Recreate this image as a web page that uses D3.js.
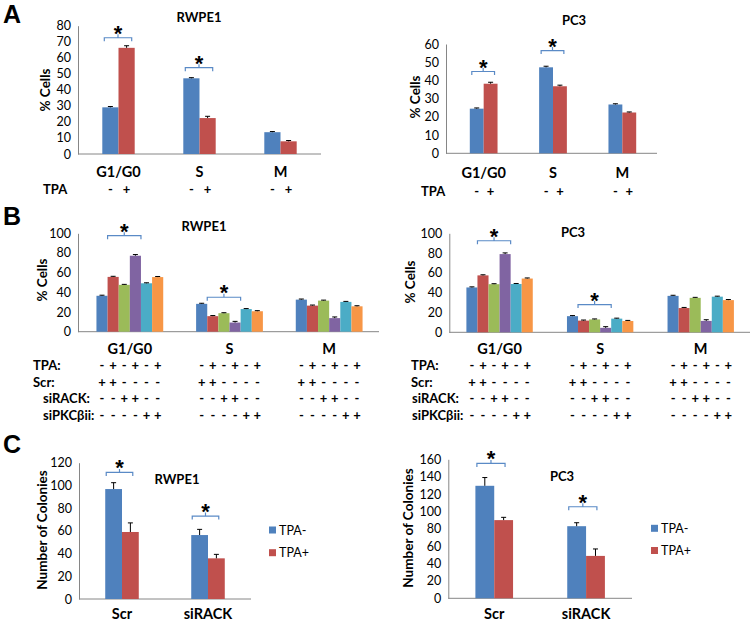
<!DOCTYPE html>
<html>
<head>
<meta charset="utf-8">
<script src="https://cdnjs.cloudflare.com/ajax/libs/d3/7.8.5/d3.min.js"></script>
<style>
	body { margin: 0; background: #fff; }
	svg text { font-family: Lato, 'Open Sans', sans-serif; fill: #000; }
	.bold { font-weight: bold; }
	.letter { font-family: 'Liberation Sans', Arial, sans-serif; font-weight: bold; font-size: 25px; }
</style>
</head>
<body>
<div id="chart"></div>
<script>

//////////////////////////////////////////////////////////////
//////////////////////////// Data ////////////////////////////
//////////////////////////////////////////////////////////////

var phases = ["G1/G0", "S", "M"];
var treatments = ["Scr", "siRACK"];
var tpaLegend = ["TPA-", "TPA+"];

//A - cell cycle, TPA - / +
var aRwpeMinus = [29.1, 47.2, 13.6], aRwpeMinusErr = [0.5, 0.4, 0.4];
var aRwpePlus = [66.2, 22.4, 7.9], aRwpePlusErr = [1.3, 1.1, 0.5];
var aPc3Minus = [24.5, 47.2, 26.8], aPc3MinusErr = [0.4, 0.6, 0.4];
var aPc3Plus = [38.2, 36.8, 22.4], aPc3PlusErr = [0.8, 0.6, 0.3];
var aSigns = ["-", "+"];

//B - six conditions per phase
var bRwpeG1 = [36.5, 55.7, 47.6, 77.2, 49.2, 55.5];
var bRwpeS = [28.3, 15.8, 18.8, 9.3, 23.0, 20.8];
var bRwpeM = [32.6, 26.5, 31.6, 13.8, 30.3, 25.8];
var bPc3G1 = [45.3, 57.5, 48.6, 79.0, 48.8, 54.3];
var bPc3S = [16.3, 11.8, 13.0, 4.5, 13.8, 11.4];
var bPc3M = [36.8, 24.5, 34.8, 11.5, 36.0, 32.5];
var bErr = [0.6, 0.6, 0.5, 1.2, 0.5, 0.6];
var rowLabels = ["TPA:", "Scr:", "siRACK:", "siPKC\u03B2ii:"];
var tpaRow = ["-", "+", "-", "+", "-", "+"];
var scrRow = ["+", "+", "-", "-", "-", "-"];
var rackRow = ["-", "-", "+", "+", "-", "-"];
var pkcRow = ["-", "-", "-", "-", "+", "+"];

//C - colonies
var cRwpeMinus = [96.8, 56.3], cRwpeMinusErr = [5.6, 5.0];
var cRwpePlus = [59.0, 35.8], cRwpePlusErr = [8.0, 3.5];
var cPc3Minus = [129.5, 83.0], cPc3MinusErr = [9.5, 4.0];
var cPc3Plus = [90.0, 48.8], cPc3PlusErr = [3.2, 8.0];

//Significance brackets: [category, from series, to series, level]
var aRwpeSig = [[0, 0, 1, 72.5], [1, 0, 1, 53.8]];
var aPc3Sig = [[0, 0, 1, 44.9], [1, 0, 1, 56.4]];
var bRwpeSig = [[0, 1, 3, 97.6], [1, 1, 3, 35]];
var bPc3Sig = [[0, 1, 3, 92.5], [1, 1, 3, 28]];
var cRwpeSig = [[0, 0, 1, 111.4], [1, 0, 1, 73]];
var cPc3Sig = [[0, 0, 1, 155.3], [1, 0, 1, 105.4]];

var twoColors = ["#4F81BD", "#C0504D"];
var sixColors = ["#4F81BD", "#C0504D", "#9BBB59", "#8064A2", "#4BACC6", "#F79646"];

function pairs(a, b) { return a.map(function(v, i) { return [v, b[i]]; }); }

//////////////////////////////////////////////////////////////
/////////////////////////// Setup ////////////////////////////
//////////////////////////////////////////////////////////////

var svg = d3.select("#chart").append("svg")
	.attr("width", 750)
	.attr("height", 622);

svg.append("text").attr("class", "letter").attr("x", 3).attr("y", 23).text("A");
svg.append("text").attr("class", "letter").attr("x", 3).attr("y", 225).text("B");
svg.append("text").attr("class", "letter").attr("x", 3).attr("y", 453).text("C");

function drawPanel(p) {
	var g = svg.append("g");
	var nS = p.values[0].length;

	var x = d3.scaleBand().domain(d3.range(p.cats.length))
		.range([p.bandX0 || p.x0, p.x1])
		.paddingInner(1 - p.group).paddingOuter((1 - p.group) / 2);
	var xs = d3.scaleBand().domain(d3.range(nS)).range([0, x.bandwidth()]);
	var y = d3.scaleLinear().domain([0, p.max]).range([p.yBot, p.yTop]);
	var bw = xs.bandwidth();
	function cx(c, s) { return x(c) + xs(s) + bw / 2; }

	//Y axis
	var ya = g.append("g")
		.attr("transform", "translate(" + p.x0 + ",0)")
		.call(d3.axisLeft(y).tickValues(d3.range(0, p.max + 1, p.step)).tickSize(0).tickPadding(7));
	ya.select(".domain").attr("stroke", "#868686");
	ya.selectAll("text").attr("font-family", null).style("font-size", "12.5px");

	//X axis line
	g.append("line")
		.attr("x1", p.x0).attr("x2", p.x1)
		.attr("y1", y(0)).attr("y2", y(0))
		.attr("stroke", "#868686");

	//Bars
	var cells = [];
	p.values.forEach(function(row, ci) {
		row.forEach(function(v, si) { cells.push({c: ci, s: si, v: v, e: p.errs[ci][si]}); });
	});
	g.selectAll(".bar").data(cells).enter().append("rect")
		.attr("x", function(d) { return x(d.c) + xs(d.s); })
		.attr("width", bw)
		.attr("y", function(d) { return y(d.v); })
		.attr("height", function(d) { return y(0) - y(d.v); })
		.attr("fill", function(d) { return p.colors[d.s]; });

	//Error bars
	var eb = g.selectAll(".err").data(cells).enter().append("g").attr("stroke", "#000").attr("stroke-width", 1);
	eb.append("line")
		.attr("x1", function(d) { return cx(d.c, d.s); })
		.attr("x2", function(d) { return cx(d.c, d.s); })
		.attr("y1", function(d) { return y(d.v); })
		.attr("y2", function(d) { return y(d.v + d.e); });
	eb.append("line")
		.attr("x1", function(d) { return cx(d.c, d.s) - 2.5; })
		.attr("x2", function(d) { return cx(d.c, d.s) + 2.5; })
		.attr("y1", function(d) { return y(d.v + d.e); })
		.attr("y2", function(d) { return y(d.v + d.e); });

	//Significance brackets
	p.sig.forEach(function(s) {
		var xa = x(s[0]) + xs(s[1]) + p.inset[0],
			xb = x(s[0]) + xs(s[2]) + bw - p.inset[1],
			yy = y(s[3]), xm = (xa + xb) / 2;
		g.append("path")
			.attr("d", "M" + xa + "," + (yy + 3.5) + "V" + yy + "H" + xb + "V" + (yy + 3.5) + "M" + xm + "," + yy + "V" + (yy - 3.5))
			.attr("fill", "none").attr("stroke", "#5A8AC6").attr("stroke-width", 1.2);
		g.append("text")
			.attr("x", xm).attr("y", yy + 3)
			.attr("text-anchor", "middle")
			.style("font-family", "'Liberation Sans', Arial, sans-serif")
			.style("font-weight", "bold").style("font-size", "22px")
			.text("*");
	});

	//Title
	g.append("text").attr("class", "bold")
		.attr("x", p.titleX).attr("y", p.titleY)
		.attr("text-anchor", "middle").style("font-size", "13px")
		.text(p.title);

	//Y label
	g.append("text").attr("class", "bold")
		.attr("transform", "translate(" + p.ylabX + "," + p.ylabY + ") rotate(-90)")
		.attr("text-anchor", "middle").attr("dominant-baseline", "central")
		.style("font-size", "13.5px")
		.text(p.ylabel);

	//Category labels
	g.selectAll(".cat").data(p.cats).enter().append("text").attr("class", "bold")
		.attr("x", function(d, i) { return x(i) + x.bandwidth() / 2; })
		.attr("y", p.catY)
		.attr("text-anchor", "middle").style("font-size", "14.5px")
		.text(function(d) { return d; });

	//Sign rows under the categories
	(p.rows || []).forEach(function(r, ri) {
		g.append("text").attr("class", "bold")
			.attr("x", r.labelX).attr("y", r.y)
			.style("font-size", "13px").text(r.label);
		p.cats.forEach(function(c, ci) {
			r.signs.forEach(function(sign, si) {
				g.append("text").attr("class", "bold")
					.attr("x", cx(ci, si)).attr("y", r.y)
					.attr("text-anchor", "middle").style("font-size", "13px")
					.text(sign);
			});
		});
	});

	//Legend
	if (p.legend) {
		p.legend.forEach(function(name, i) {
			var ly = p.legY + i * p.legStep;
			g.append("rect").attr("x", p.legX).attr("y", ly - 3.5).attr("width", 7).attr("height", 7).attr("fill", p.colors[i]);
			g.append("text").attr("x", p.legX + 10).attr("y", ly).attr("dominant-baseline", "central")
				.style("font-size", "12.5px").text(name);
		});
	}
}

//////////////////////////////////////////////////////////////
/////////////////////////// Panels ///////////////////////////
//////////////////////////////////////////////////////////////

drawPanel({
	x0: 78, x1: 321, yTop: 25.7, yBot: 154, max: 80, step: 10, group: 0.4,
	cats: phases, values: pairs(aRwpeMinus, aRwpePlus), errs: pairs(aRwpeMinusErr, aRwpePlusErr),
	colors: twoColors, sig: aRwpeSig, inset: [2, 3],
	title: "RWPE1", titleX: 199, titleY: 21.5,
	ylabel: "% Cells", ylabX: 45, ylabY: 90, catY: 177,
	rows: [{label: "TPA", labelX: 43, y: 194, signs: aSigns}]
});

drawPanel({
	x0: 446, bandX0: 449, x1: 657, yTop: 44, yBot: 153.3, max: 60, step: 10, group: 0.4,
	cats: phases, values: pairs(aPc3Minus, aPc3Plus), errs: pairs(aPc3MinusErr, aPc3PlusErr),
	colors: twoColors, sig: aPc3Sig, inset: [2, 3],
	title: "PC3", titleX: 574, titleY: 24.5,
	ylabel: "% Cells", ylabX: 415, ylabY: 97, catY: 178,
	rows: [{label: "TPA", labelX: 421, y: 196, signs: aSigns}]
});

var bRowsY = [370, 386.5, 403, 419.5];
function bRows(xs) {
	var signs = [tpaRow, scrRow, rackRow, pkcRow];
	return rowLabels.map(function(l, i) { return {label: l, labelX: xs[i], y: bRowsY[i], signs: signs[i]}; });
}

drawPanel({
	x0: 78, bandX0: 80, x1: 379, yTop: 233.3, yBot: 331.7, max: 100, step: 20, group: 0.67,
	cats: phases, values: [bRwpeG1, bRwpeS, bRwpeM], errs: [bErr, bErr, bErr],
	colors: sixColors, sig: bRwpeSig, inset: [0, 0],
	title: "RWPE1", titleX: 204, titleY: 231,
	ylabel: "% Cells", ylabX: 42, ylabY: 280, catY: 353.5,
	rows: bRows([33, 33, 43, 43])
});

drawPanel({
	x0: 449.3, x1: 751, yTop: 233.3, yBot: 332.3, max: 100, step: 20, group: 0.66,
	cats: phases, values: [bPc3G1, bPc3S, bPc3M], errs: [bErr, bErr, bErr],
	colors: sixColors, sig: bPc3Sig, inset: [0, 0],
	title: "PC3", titleX: 573, titleY: 237,
	ylabel: "% Cells", ylabX: 410, ylabY: 282, catY: 353.5,
	rows: bRows([411, 411, 412, 412])
});

drawPanel({
	x0: 79, x1: 251, yTop: 462.7, yBot: 599, max: 120, step: 20, group: 0.39,
	cats: treatments, values: pairs(cRwpeMinus, cRwpePlus), errs: pairs(cRwpeMinusErr, cRwpePlusErr),
	colors: twoColors, sig: cRwpeSig, inset: [1, 6],
	title: "RWPE1", titleX: 177, titleY: 483.5,
	ylabel: "Number of Colonies", ylabX: 42, ylabY: 530, catY: 618.5,
	legend: tpaLegend, legX: 269, legY: 530, legStep: 22.7
});

drawPanel({
	x0: 448.3, x1: 632, yTop: 459.3, yBot: 598.3, max: 160, step: 20, group: 0.41,
	cats: treatments, values: pairs(cPc3Minus, cPc3Plus), errs: pairs(cPc3MinusErr, cPc3PlusErr),
	colors: twoColors, sig: cPc3Sig, inset: [1.5, 8],
	title: "PC3", titleX: 562, titleY: 480.5,
	ylabel: "Number of Colonies", ylabX: 408, ylabY: 528, catY: 618.5,
	legend: tpaLegend, legX: 651, legY: 528.3, legStep: 22.2
});

</script>
</body>
</html>
